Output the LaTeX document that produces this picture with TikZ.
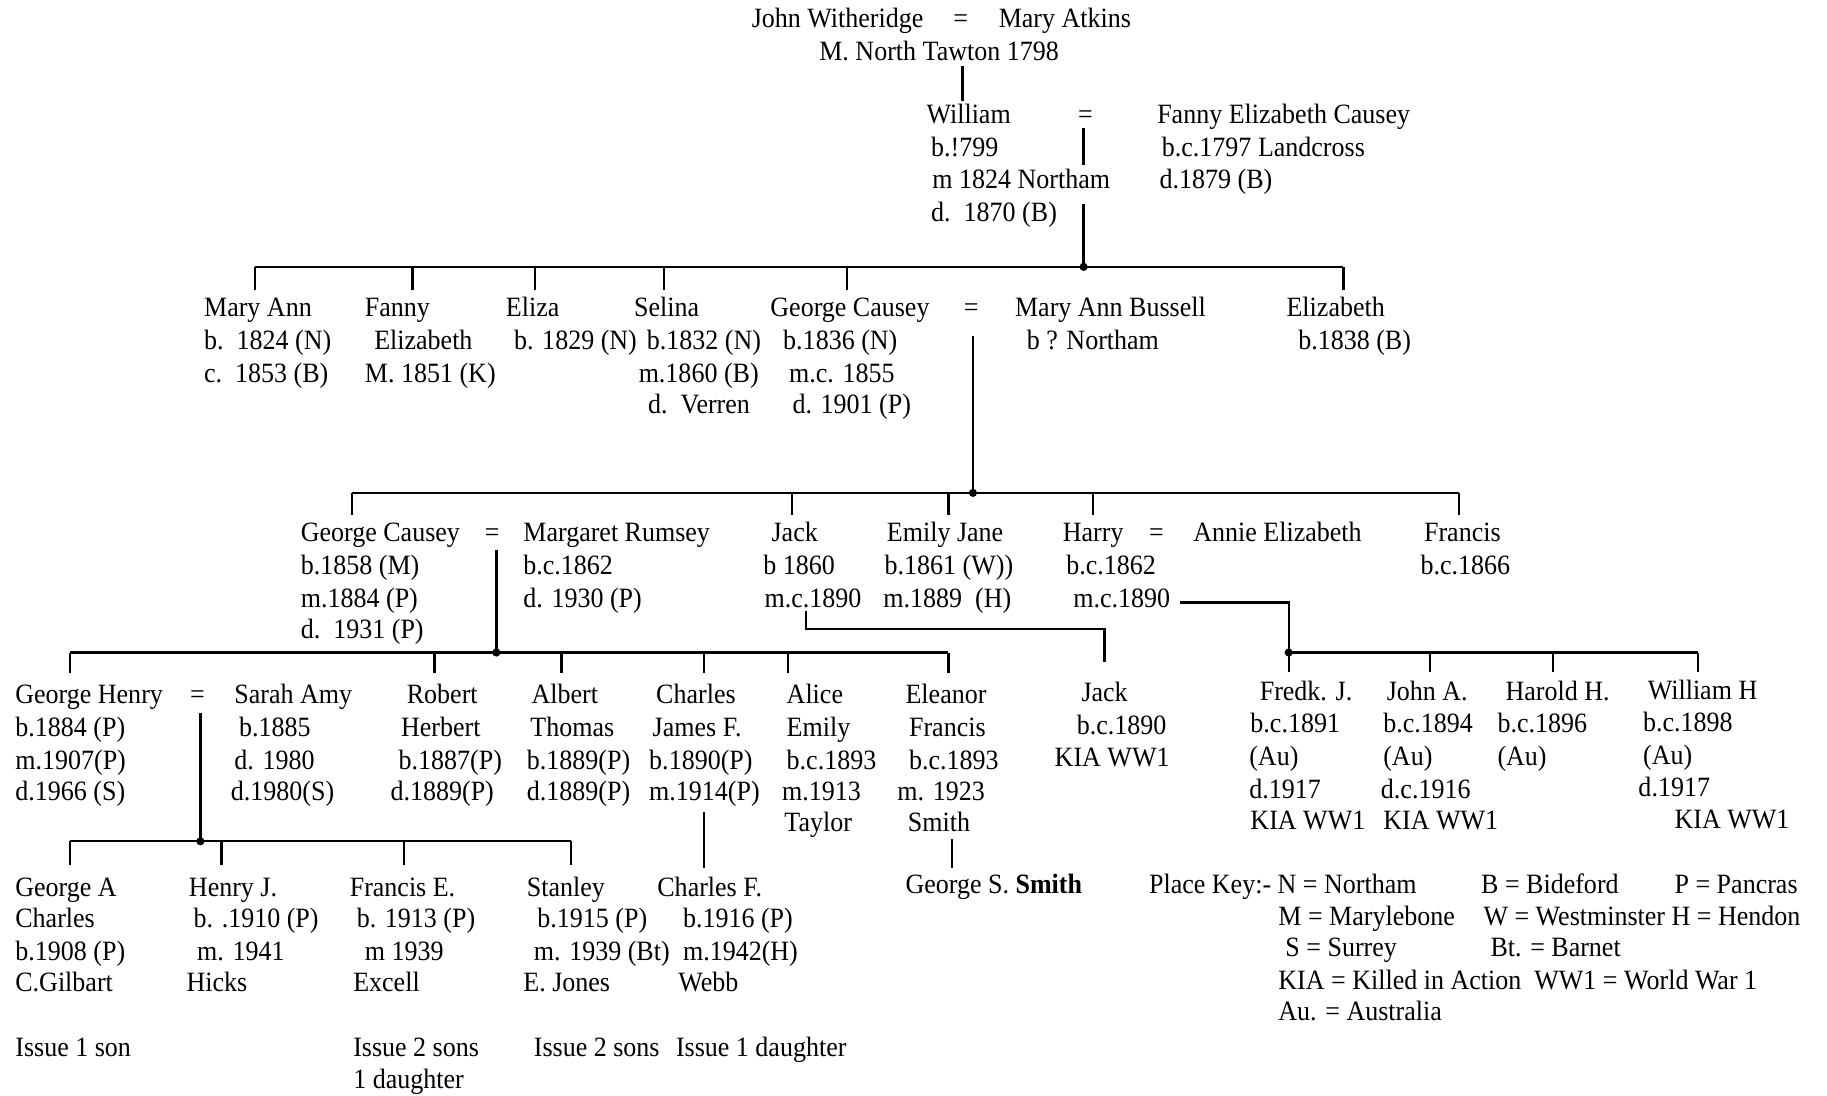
\documentclass[tikz,border=0pt]{standalone}
\usepackage{fontspec}
\setmainfont[FakeStretch=0.93]{Liberation Serif}
\newcounter{tn}
\newcommand\Tx[3]{\stepcounter{tn}\node[txt] (t\arabic{tn}) at (#1,#2) {#3};}
\newcommand\Nx[4]{\node[txt] (#1) at (#2,#3) {#4};}
\begin{document}
\begin{tikzpicture}[x=1pt,y=-1pt,
 txt/.style={anchor=base west,inner sep=0pt,font=\fontsize{24}{28}\selectfont},
 ln/.style={line width=2pt},
 jdot/.style={circle,fill,inner sep=0pt,minimum size=7pt}]
\useasboundingbox[fill=white] (0,0) rectangle (1568,940);

% ---------- generation 0
\Nx{john}{645}{24}{John Witheridge}
\Nx{eqA}{818}{24}{=}
\Nx{mary}{857}{24}{Mary Atkins}
\Nx{mA}{703}{52}{M. North Tawton 1798}

% ---------- William
\Nx{william}{795}{106}{William}
\Nx{eqB}{925}{106}{=}
\Nx{fannyEC}{993}{106}{Fanny Elizabeth Causey}
\Tx{799}{134}{b.!799}
\Tx{800}{162}{m 1824 Northam}
\Tx{799}{190}{d.\ \ 1870 (B)}
\Tx{997}{134}{b.c.1797 Landcross}
\Tx{995}{162}{d.1879 (B)}

% ---------- generation 2
\Nx{maryann}{175}{272}{Mary Ann}
\Tx{175}{300}{b.\ \ 1824 (N)}
\Tx{175}{328}{c.\ \ 1853 (B)}
\Nx{fanny}{313}{272}{Fanny}
\Tx{321}{300}{Elizabeth}
\Tx{313}{328}{M. 1851 (K)}
\Nx{eliza}{434}{272}{Eliza}
\Tx{441}{300}{b. 1829 (N)}
\Nx{selina}{544}{272}{Selina}
\Tx{555}{300}{b.1832 (N)}
\Tx{548}{328}{m.1860 (B)}
\Tx{556}{355}{d.\ \ Verren}
\Nx{georgeA}{661}{272}{George Causey}
\Tx{672}{300}{b.1836 (N)}
\Tx{677}{328}{m.c. 1855}
\Tx{680}{355}{d. 1901 (P)}
\Nx{eqC}{827}{272}{=}
\Nx{bussell}{871}{272}{Mary Ann Bussell}
\Tx{881}{300}{b ? Northam}
\Nx{elizabeth}{1104}{272}{Elizabeth}
\Tx{1114}{300}{b.1838 (B)}

% ---------- generation 3
\Nx{georgeB}{258}{465}{George Causey}
\Nx{eqD}{416}{465}{=}
\Nx{margaret}{449}{465}{Margaret Rumsey}
\Tx{258}{493}{b.1858 (M)}
\Tx{258}{521}{m.1884 (P)}
\Tx{258}{548}{d.\ \ 1931 (P)}
\Tx{449}{493}{b.c.1862}
\Tx{449}{521}{d. 1930 (P)}
\Nx{jack}{662}{465}{Jack}
\Tx{655}{493}{b 1860}
\Tx{656}{521}{m.c.1890}
\Nx{emily}{761}{465}{Emily Jane}
\Tx{759}{493}{b.1861 (W))}
\Tx{758}{521}{m.1889\ \ (H)}
\Nx{harry}{912}{465}{Harry}
\Nx{eqE}{986}{465}{=}
\Nx{annie}{1024}{465}{Annie Elizabeth}
\Tx{915}{493}{b.c.1862}
\Tx{921}{521}{m.c.1890}
\Nx{francis}{1222}{465}{Francis}
\Tx{1219}{493}{b.c.1866}

% ---------- generation 4
\Nx{gHenry}{13}{604}{George Henry}
\Nx{eqF}{163}{604}{=}
\Nx{sarah}{201}{604}{Sarah Amy}
\Tx{13}{632}{b.1884 (P)}
\Tx{13}{660}{m.1907(P)}
\Tx{13}{687}{d.1966 (S)}
\Tx{205}{632}{b.1885}
\Tx{201}{660}{d. 1980}
\Tx{198}{687}{d.1980(S)}
\Nx{robert}{349}{604}{Robert}
\Tx{344}{632}{Herbert}
\Tx{342}{660}{b.1887(P)}
\Tx{335}{687}{d.1889(P)}
\Nx{albert}{456}{604}{Albert}
\Tx{455}{632}{Thomas}
\Tx{452}{660}{b.1889(P)}
\Tx{452}{687}{d.1889(P)}
\Nx{charles}{563}{604}{Charles}
\Tx{560}{632}{James F.}
\Tx{557}{660}{b.1890(P)}
\Tx{557}{687}{m.1914(P)}
\Nx{alice}{675}{604}{Alice}
\Tx{675}{632}{Emily}
\Tx{675}{660}{b.c.1893}
\Tx{671}{687}{m.1913}
\Tx{673}{714}{Taylor}
\Nx{eleanor}{777}{604}{Eleanor}
\Tx{780}{632}{Francis}
\Tx{780}{660}{b.c.1893}
\Tx{770}{687}{m. 1923}
\Tx{779}{714}{Smith}
\Nx{jackB}{928}{602}{Jack}
\Tx{924}{630}{b.c.1890}
\Tx{905}{658}{KIA WW1}
\Nx{fredk}{1081}{601}{Fredk. J.}
\Tx{1073}{629}{b.c.1891}
\Tx{1072}{657}{(Au)}
\Tx{1072}{685}{d.1917}
\Tx{1073}{712}{KIA WW1}
\Nx{johnA}{1190}{601}{John A.}
\Tx{1187}{629}{b.c.1894}
\Tx{1187}{657}{(Au)}
\Tx{1185}{685}{d.c.1916}
\Tx{1187}{712}{KIA WW1}
\Nx{harold}{1292}{601}{Harold H.}
\Tx{1285}{629}{b.c.1896}
\Tx{1285}{657}{(Au)}
\Nx{williamH}{1414}{600}{William H}
\Tx{1410}{628}{b.c.1898}
\Tx{1410}{656}{(Au)}
\Tx{1406}{684}{d.1917}
\Tx{1437}{711}{KIA WW1}

% ---------- generation 5
\Nx{georgeAC}{13}{769}{George A}
\Tx{13}{796}{Charles}
\Tx{13}{824}{b.1908 (P)}
\Tx{13}{851}{C.Gilbart}
\Tx{13}{907}{Issue 1 son}
\Nx{henry}{162}{769}{Henry J.}
\Tx{166}{796}{b. .1910 (P)}
\Tx{169}{824}{m. 1941}
\Tx{160}{851}{Hicks}
\Nx{francisE}{300}{769}{Francis E.}
\Tx{306}{796}{b. 1913 (P)}
\Tx{313}{824}{m 1939}
\Tx{303}{851}{Excell}
\Tx{303}{907}{Issue 2 sons}
\Tx{303}{934}{1 daughter}
\Nx{stanley}{452}{769}{Stanley}
\Tx{461}{796}{b.1915 (P)}
\Tx{458}{824}{m. 1939 (Bt)}
\Tx{449}{851}{E. Jones}
\Tx{458}{907}{Issue 2 sons}
\Nx{charlesF}{564}{769}{Charles F.}
\Tx{586}{796}{b.1916 (P)}
\Tx{586}{824}{m.1942(H)}
\Tx{582}{851}{Webb}
\Tx{580}{907}{Issue 1 daughter}
\Nx{georgeS}{777}{767}{George S. \textbf{Smith}}

% ---------- key
\Nx{key}{986}{767}{Place Key:- N = Northam}
\Tx{1271}{767}{B = Bideford}
\Tx{1437}{767}{P = Pancras}
\Tx{1097}{794}{M = Marylebone}
\Tx{1273}{794}{W = Westminster H = Hendon}
\Tx{1103}{821}{S = Surrey}
\Tx{1279}{821}{Bt. = Barnet}
\Tx{1097}{849}{KIA = Killed in Action\ \ WW1 = World War 1}
\Tx{1097}{876}{Au. = Australia}

% ---------- connectors
% gen0 -> William
\coordinate (a0) at (826,57); \coordinate (a1) at (826,87);
\draw[ln] (a0) -- (a1);
% William = Fanny
\coordinate (w0) at (930,110); \coordinate (w1) at (930,142);
\coordinate (w2) at (930,175); \coordinate (J1) at (930,229);
\draw[ln] (w0) -- (w1);
\draw[ln] (w2) -- (J1);
\coordinate (b1L) at (219,229); \coordinate (b1R) at (1153,229);
\draw[ln] (b1L) -- (b1R);
\foreach \x in {219,354,459,570,727,1153}{
  \coordinate (d1-\x) at (\x,229);
  \draw[ln] (d1-\x) -- ++(0,20);
}
\node[jdot] (j1) at (J1) {};

% George Causey = Mary Ann Bussell
\coordinate (g0) at (835,288); \coordinate (J2) at (835,423);
\draw[ln] (g0) -- (J2);
\coordinate (b2L) at (302,423); \coordinate (b2R) at (1252,423);
\draw[ln] (b2L) -- (b2R);
\foreach \x in {302,680,814,938,1252}{
  \coordinate (d2-\x) at (\x,423);
  \draw[ln] (d2-\x) -- ++(0,19);
}
\node[jdot] (j2) at (J2) {};

% George Causey = Margaret Rumsey
\coordinate (m0) at (426,472); \coordinate (J3) at (426,560);
\draw[ln] (m0) -- (J3);
\coordinate (b3L) at (60,560); \coordinate (b3R) at (814,560);
\draw[ln] (b3L) -- (b3R);
\foreach \x in {60,373,482,604,676,814}{
  \coordinate (d3-\x) at (\x,560);
  \draw[ln] (d3-\x) -- ++(0,18);
}
\node[jdot] (j3) at (J3) {};

% Jack -> Jack
\coordinate (k0) at (692,524); \coordinate (k1) at (948,568);
\draw[ln] (k0) |- (948,540) -- (k1);

% Harry = Annie
\coordinate (h0) at (1013,517); \coordinate (J4) at (1106,560);
\draw[ln] (h0) -| (J4);
\coordinate (b4R) at (1457,560);
\draw[ln] (J4) -- (b4R);
\foreach \x in {1106,1227,1333,1457}{
  \coordinate (d4-\x) at (\x,560);
  \draw[ln] (d4-\x) -- ++(0,17);
}
\node[jdot] (j4) at (J4) {};

% George Henry = Sarah Amy
\coordinate (s0) at (172,612); \coordinate (J5) at (172,722);
\draw[ln] (s0) -- (J5);
\coordinate (b5L) at (60,722); \coordinate (b5R) at (490,722);
\draw[ln] (b5L) -- (b5R);
\foreach \x in {60,190,347,490}{
  \coordinate (d5-\x) at (\x,722);
  \draw[ln] (d5-\x) -- ++(0,20);
}
\node[jdot] (j5) at (J5) {};

% Charles James F. -> Charles F.
\coordinate (c0) at (604,697); \coordinate (c1) at (604,745);
\draw[ln] (c0) -- (c1);
% Eleanor -> George S. Smith
\coordinate (e0) at (817,720); \coordinate (e1) at (817,745);
\draw[ln] (e0) -- (e1);
\end{tikzpicture}
\end{document}
